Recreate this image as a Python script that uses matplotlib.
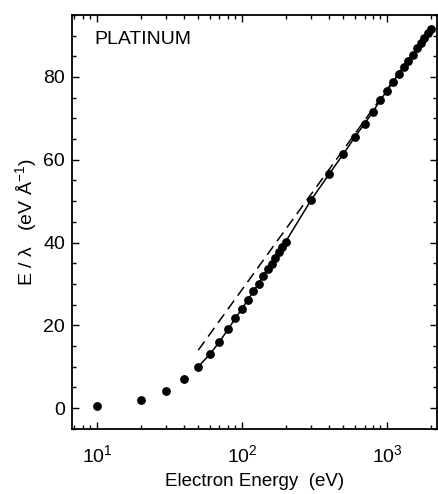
import numpy as np
import matplotlib.pyplot as plt
from matplotlib.ticker import MultipleLocator, LogLocator, NullFormatter

plt.rcParams['font.family'] = ['Liberation Sans', 'DejaVu Sans']
plt.rcParams['mathtext.fontset'] = 'custom'
plt.rcParams['mathtext.rm'] = 'Liberation Sans'

# measured points (electron energy in eV, E/lambda in eV/A)
energy = [10, 20, 30, 40, 50, 60, 70, 80, 90, 100,
          110, 120, 130, 140, 150, 160, 170, 180, 190, 200,
          300, 400, 500, 600, 700, 800, 900, 1000, 1100, 1200,
          1300, 1400, 1500, 1600, 1700, 1800, 1900, 2000]
e_over_lambda = [0.5, 2.0, 4.2, 7.0, 10.0, 13.0, 16.0, 19.0, 21.7, 24.0,
                 26.2, 28.3, 30.0, 32.0, 33.5, 34.8, 36.3, 37.6, 39.0, 40.2,
                 50.3, 56.6, 61.4, 65.5, 68.7, 71.6, 74.5, 76.6, 78.8, 80.7,
                 82.4, 83.9, 85.3, 87.0, 88.2, 89.4, 90.6, 91.6]

# solid curve runs through the points from 50 eV upward
fit_start = 4

# dashed reference line
dash_energy = [50, 100, 200, 500, 1000, 2000]
dash_values = [14.0, 28.6, 43.2, 62.4, 77.0, 91.6]

fig = plt.figure(figsize=(4.38, 4.94), dpi=100)
ax = fig.add_axes([0.164, 0.132, 0.834, 0.838])

ax.plot(energy[fit_start:], e_over_lambda[fit_start:], color='black', lw=1.1)
ax.plot(dash_energy, dash_values, color='black', lw=1.1,
        dashes=(7, 4))
ax.plot(energy, e_over_lambda, 'o', color='black', markersize=5.3)

ax.set_xscale('log')
ax.set_xlim(6.72, 2213)
ax.set_ylim(-5, 95)

ax.yaxis.set_major_locator(MultipleLocator(20))
ax.yaxis.set_minor_locator(MultipleLocator(5))
ax.xaxis.set_major_locator(LogLocator(base=10))
ax.xaxis.set_minor_locator(LogLocator(base=10, subs=np.arange(2, 10)))
ax.xaxis.set_minor_formatter(NullFormatter())

ax.tick_params(which='both', direction='in', top=True, right=True,
               labelsize=14, width=1.0)
ax.tick_params(which='major', length=5)
ax.tick_params(which='minor', length=3)
ax.tick_params(axis='x', pad=11)
ax.tick_params(axis='y', pad=5)
for s in ax.spines.values():
    s.set_linewidth(1.3)

ax.set_xlabel('Electron Energy  (eV)', fontsize=13.5, labelpad=5)
ax.set_ylabel('E / \u03bb   (eV \u00c5$^{-1}$)', fontsize=14, labelpad=2)

ax.text(0.063, 0.962, 'PLATINUM', transform=ax.transAxes, fontsize=14,
        va='top', ha='left')

fig.savefig('out.png', dpi=100)
